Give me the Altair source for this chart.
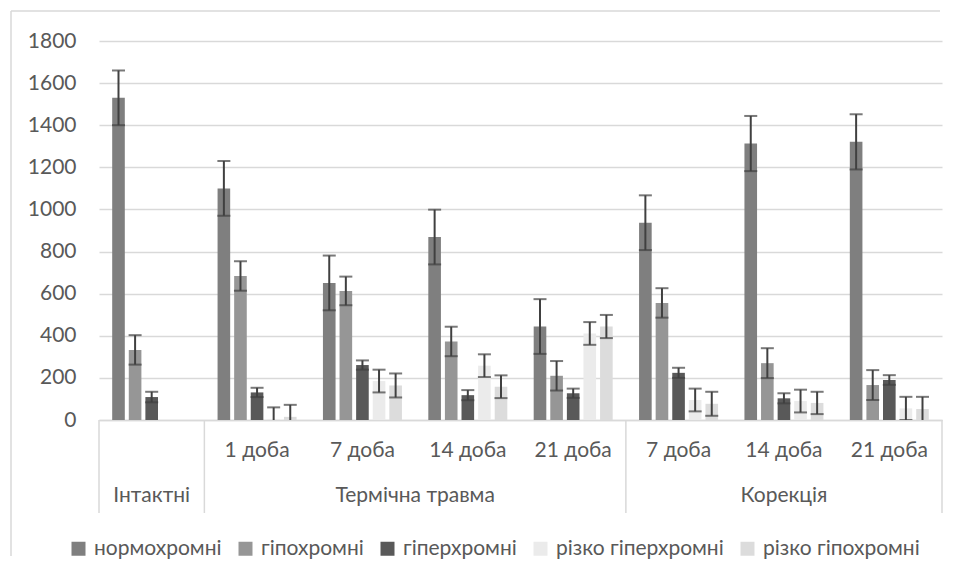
import altair as alt
import pandas as pd

groups = ["Інтактні", "ТТ 1", "ТТ 7", "ТТ 14", "ТТ 21", "К 7", "К 14", "К 21"]
day_labels = ["", "1 доба", "7 доба", "14 доба", "21 доба", "7 доба", "14 доба", "21 доба"]
series = ["нормохромні", "гіпохромні", "гіперхромні", "різко гіперхромні", "різко гіпохромні"]
colors = ["#7f7f7f", "#969696", "#595959", "#ebebeb", "#dcdcdc"]

normo = [1530, 1100, 651, 869, 444, 937, 1313, 1321]
normo_err = [130, 130, 130, 130, 130, 130, 131, 131]
hypo = [333, 684, 613, 373, 210, 556, 270, 166]
hypo_err = [70, 70, 68, 70, 70, 70, 71, 71]
hyper = [109, 131, 261, 118, 127, 224, 103, 190]
hyper_err = [25, 22, 22, 24, 22, 24, 24, 23]
sharp_hyper = [None, 5, 185, 258, 411, 95, 90, 55]
sharp_hyper_err = [None, 55, 54, 54, 54, 54, 54, 55]
sharp_hypo = [None, 15, 164, 158, 444, 77, 81, 52]
sharp_hypo_err = [None, 57, 57, 54, 55, 57, 53, 58]

values = [normo, hypo, hyper, sharp_hyper, sharp_hypo]
errors = [normo_err, hypo_err, hyper_err, sharp_hyper_err, sharp_hypo_err]

rows = []
for s, vals, errs in zip(series, values, errors):
    for g, v, e in zip(groups, vals, errs):
        if v is None:
            continue
        rows.append({"group": g, "series": s, "value": v, "lo": v - e, "hi": v + e})
df = pd.DataFrame(rows)

FONT = "Lato"
FS = 21
TXT = "#595959"
W, H = 843, 379
PAD_R, PAD_B = 9, 148

xscale = alt.Scale(domain=groups, paddingInner=0, paddingOuter=0)
xoff = alt.XOffset("series:N", scale=alt.Scale(domain=series, paddingInner=0.24, paddingOuter=0.795))
x_enc = alt.X("group:N", scale=xscale, sort=groups,
              axis=alt.Axis(labels=False, ticks=False, title=None, domain=True,
                            domainColor="#d9d9d9", domainWidth=1.5))

bars = alt.Chart(df).mark_bar(stroke=None).encode(
    x=x_enc,
    xOffset=xoff,
    y=alt.Y("value:Q", scale=alt.Scale(domain=[0, 1800]),
            axis=alt.Axis(values=list(range(0, 1801, 200)), format="d", title=None, ticks=False,
                          domain=False, labelPadding=23, labelFontSize=FS, labelColor=TXT,
                          labelFont=FONT, gridColor="#d9d9d9", gridWidth=1.5)),
    color=alt.Color("series:N", scale=alt.Scale(domain=series, range=colors),
                    legend=alt.Legend(orient="none", legendX=-31, legendY=497, direction="horizontal",
                                      title=None, symbolType="square", symbolSize=196,
                                      symbolStrokeWidth=0, labelFontSize=FS, labelColor=TXT,
                                      labelFont=FONT, labelLimit=400, columnPadding=13,
                                      labelOffset=5, padding=0)),
)

err_rule = alt.Chart(df).mark_rule(color="#404040", strokeWidth=2, clip=True).encode(
    x=alt.X("group:N", scale=xscale, sort=groups), xOffset=xoff,
    y=alt.Y("lo:Q"), y2="hi:Q")
err_top = alt.Chart(df).mark_tick(color="#404040", thickness=2, size=13, orient="horizontal", clip=True).encode(
    x=alt.X("group:N", scale=xscale, sort=groups), xOffset=xoff, y="hi:Q")
err_bot = alt.Chart(df).mark_tick(color="#404040", thickness=2, size=13, orient="horizontal", clip=True).encode(
    x=alt.X("group:N", scale=xscale, sort=groups), xOffset=xoff, y="lo:Q")

sep_start = pd.DataFrame({"group": ["Інтактні", "ТТ 1", "К 7"]})
sep_end = pd.DataFrame({"group": ["К 21"]})
sep1 = alt.Chart(sep_start).mark_rule(color="#d9d9d9", strokeWidth=1.5).encode(
    x=alt.X("group:N", scale=xscale, sort=groups, bandPosition=0),
    y=alt.value(H), y2=alt.value(472))
sep2 = alt.Chart(sep_end).mark_rule(color="#d9d9d9", strokeWidth=1.5).encode(
    x=alt.X("group:N", scale=xscale, sort=groups, bandPosition=1),
    y=alt.value(H), y2=alt.value(472))

lvl1 = pd.DataFrame({"group": groups, "label": day_labels})
lvl1_text = alt.Chart(lvl1).mark_text(font=FONT, fontSize=FS, color=TXT, baseline="middle").encode(
    x=alt.X("group:N", scale=xscale, sort=groups), y=alt.value(410), text="label:N")

lvl2a = pd.DataFrame({"group": ["Інтактні", "К 14"], "label": ["Інтактні", "Корекція"]})
lvl2b = pd.DataFrame({"group": ["ТТ 14"], "label": ["Термічна травма"]})
lvl2a_text = alt.Chart(lvl2a).mark_text(font=FONT, fontSize=FS, color=TXT, baseline="middle").encode(
    x=alt.X("group:N", scale=xscale, sort=groups), y=alt.value(455), text="label:N")
lvl2b_text = alt.Chart(lvl2b).mark_text(font=FONT, fontSize=FS, color=TXT, baseline="middle").encode(
    x=alt.X("group:N", scale=xscale, sort=groups, bandPosition=0), y=alt.value(455), text="label:N")

one = pd.DataFrame({"a": [0]})
frame_top = alt.Chart(one).mark_rule(color="#d9d9d9", strokeWidth=1.5).encode(
    x=alt.value(-88), x2=alt.value(W - 2), y=alt.value(-30), y2=alt.value(-30))
frame_left = alt.Chart(one).mark_rule(color="#d9d9d9", strokeWidth=1.5).encode(
    x=alt.value(-88), x2=alt.value(-88), y=alt.value(-30), y2=alt.value(H + PAD_B - 12))

chart = alt.layer(frame_top, frame_left, bars, err_rule, err_top, err_bot, sep1, sep2,
                  lvl1_text, lvl2a_text, lvl2b_text).properties(
    width=W, height=H,
    autosize=alt.AutoSizeParams(type="none"),
    padding={"left": 91, "top": 33, "right": PAD_R, "bottom": PAD_B},
).configure(font=FONT).configure_view(strokeWidth=0)

chart.save("out.html", embed_options={"renderer": "svg", "actions": False})
